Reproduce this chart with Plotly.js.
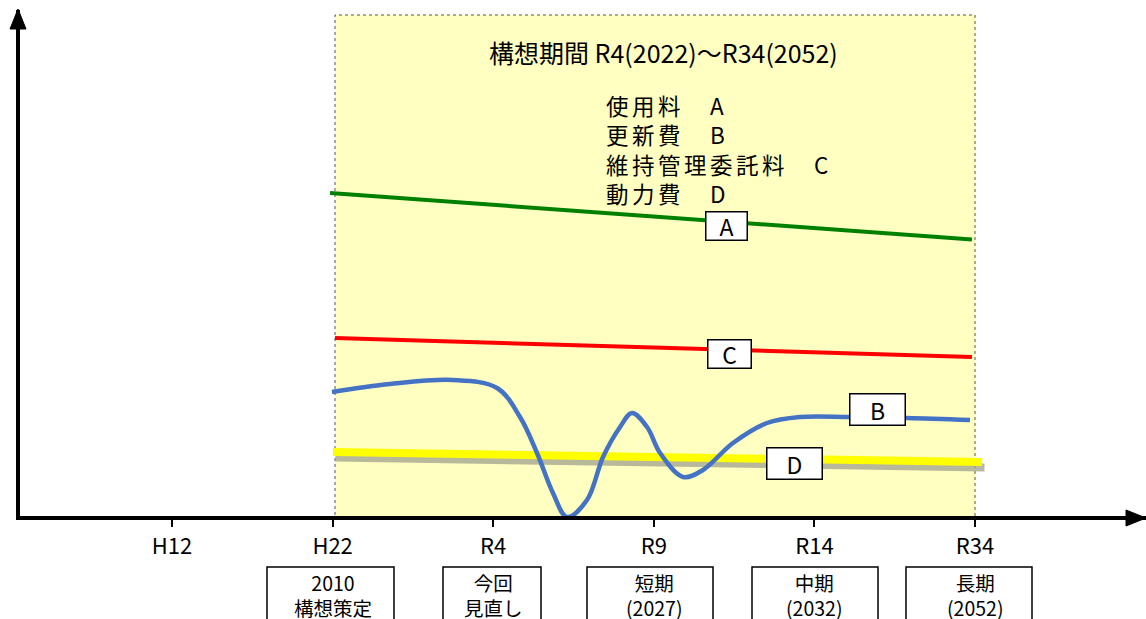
<!DOCTYPE html>
<html><head><meta charset="utf-8">
<script src="https://cdn.plot.ly/plotly-3.0.1.min.js"></script>
<style>
html,body{margin:0;padding:0;background:#fff}
g.annotation[data-index="1"] text.annotation-text{letter-spacing:3.5px}
</style>
</head><body>
<div id="chart" style="width:1146px;height:619px"></div>
<script>
// ---- data ----
var tickLabels = ["H12","H22","R4","R9","R14","R34"];
var tickPos = [0,1,2,3,4,5];
var boxLine1 = ["2010","今回","短期","中期","長期"];
var boxLine2 = ["構想策定","見直し","(2027)","(2032)","(2052)"];
var boxTickPos = [1,2,3,4,5];

var aX = [0.984, 4.981];
var aY = [65.0, 55.7];
var cX = [1.015, 4.981];
var cY = [36.0, 32.2];
var dX = [1.002, 5.044];
var dY = [13.2, 11.2];
var bX = [0.996,1.357,1.750,2.024,2.167,2.273,2.372,2.460,2.584,2.684,2.790,2.864,2.958,3.039,3.182,3.306,3.493,3.705,3.910,4.222,4.577,4.969];
var bY = [25.2,26.8,27.6,26.0,20.2,13.0,5.0,0.2,3.6,12.2,18.2,21.0,18.2,13.0,8.2,9.6,15.0,19.0,20.2,20.2,20.0,19.6];

var titleText = "構想期間 R4(2022)～R34(2052)";
var legendLines = ["使用料　A","更新費　B","維持管理委託料　C","動力費　D"];
var lineTags = ["A","B","C","D"];

// ---- layout helpers ----
var FONT = "'Noto Sans CJK JP','Noto Sans',sans-serif";
var W = 1146, ML = 20, MB = 103, MT = 10, H = 619;
var plotH = H - MT - MB;
function px2paperX(px){ return (px-ML)/(W-ML); }
function px2paperY(py){ return (H-MB-py)/plotH; }

var traces = [
  {x:dX.map(function(v){return v+0.015;}), y:dY.map(function(v){return v-1.1;}), mode:"lines",
   line:{color:"rgba(160,160,140,0.75)", width:8}, hoverinfo:"skip"},
  {x:dX, y:dY, mode:"lines", line:{color:"#FFFF00", width:8}, hoverinfo:"skip"},
  {x:aX, y:aY, mode:"lines", line:{color:"#008000", width:4}, hoverinfo:"skip"},
  {x:cX, y:cY, mode:"lines", line:{color:"#FF0000", width:4}, hoverinfo:"skip"},
  {x:bX, y:bY, mode:"lines", line:{color:"#4472C4", width:4.5, shape:"spline", smoothing:1}, hoverinfo:"skip"}
];

var annotations = [];
annotations.push({x:3.063, y:93.2, xref:"x", yref:"y", text:titleText, showarrow:false,
  font:{family:FONT, size:25, color:"#000"}});
annotations.push({x:2.690, y:73.8, xref:"x", yref:"y", text:legendLines.join("<br>"), showarrow:false,
  xanchor:"left", yanchor:"middle", align:"left", font:{family:FONT, size:22.5, color:"#000"}});
var tagPos = {A:[3.45,58.4,38], B:[4.396,21.8,52], C:[3.474,32.8,40], D:[3.879,11.0,52]};
var tagH = {A:25, B:28, C:25, D:28};
lineTags.forEach(function(t){
  var p = tagPos[t];
  annotations.push({x:p[0], y:p[1], xref:"x", yref:"y", text:t, showarrow:false,
    bgcolor:"#fff", bordercolor:"#000", borderwidth:1.5, borderpad:1,
    width:p[2], height:tagH[t], font:{family:FONT, size:23, color:"#000"}});
});

var boxes = [[267,394],[443,541],[587,713],[752,878],[906,1032]];
var shapes = [];
// yellow period
shapes.push({type:"rect", xref:"x", yref:"y", x0:1.015, x1:5.0, y0:0, y1:100.6,
  fillcolor:"#FFFFC2", line:{color:"#555", width:1, dash:"dot"}, layer:"below"});
boxes.forEach(function(b,i){
  shapes.push({type:"rect", xref:"paper", yref:"paper",
    x0:px2paperX(b[0]), x1:px2paperX(b[1]), y0:px2paperY(630), y1:px2paperY(567),
    line:{color:"#000", width:1.5}, fillcolor:"rgba(0,0,0,0)"});
  annotations.push({x:boxTickPos[i], xref:"x", y:px2paperY(595), yref:"paper", yanchor:"middle",
    borderpad:0, text:boxLine1[i] + "<br>" + boxLine2[i], showarrow:false,
    font:{family:FONT, size:19.5, color:"#000"}});
});
// arrow heads
function tri(pts){
  return "M"+pts.map(function(p){return px2paperX(p[0])+","+px2paperY(p[1]);}).join(" L")+" Z";
}
shapes.push({type:"path", xref:"paper", yref:"paper", path:tri([[18,9],[10,29],[26,29]]),
  fillcolor:"#000", line:{color:"#000", width:1}});
shapes.push({type:"path", xref:"paper", yref:"paper", path:tri([[1146,518],[1126,510],[1126,526]]),
  fillcolor:"#000", line:{color:"#000", width:1}});

var layout = {
  width:W, height:H,
  margin:{l:ML, r:0, t:MT, b:MB, pad:0},
  paper_bgcolor:"#fff", plot_bgcolor:"#fff",
  showlegend:false,
  xaxis:{range:[-0.9465, 6.0648], showgrid:false, zeroline:false,
    showline:true, linecolor:"#000", linewidth:4,
    tickmode:"array", tickvals:tickPos, ticktext:tickLabels,
    ticks:"outside", ticklen:7, tickwidth:2, tickcolor:"#000",
    ticklabelstandoff:1,
    tickfont:{family:FONT, size:22, color:"#000"}, fixedrange:true},
  yaxis:{range:[0.4, 101.6], showgrid:false, zeroline:false,
    showline:true, linecolor:"#000", linewidth:4,
    showticklabels:false, ticks:"", fixedrange:true},
  shapes:shapes,
  annotations:annotations
};
Plotly.newPlot("chart", traces, layout, {displayModeBar:false, staticPlot:true});
</script>
</body></html>
